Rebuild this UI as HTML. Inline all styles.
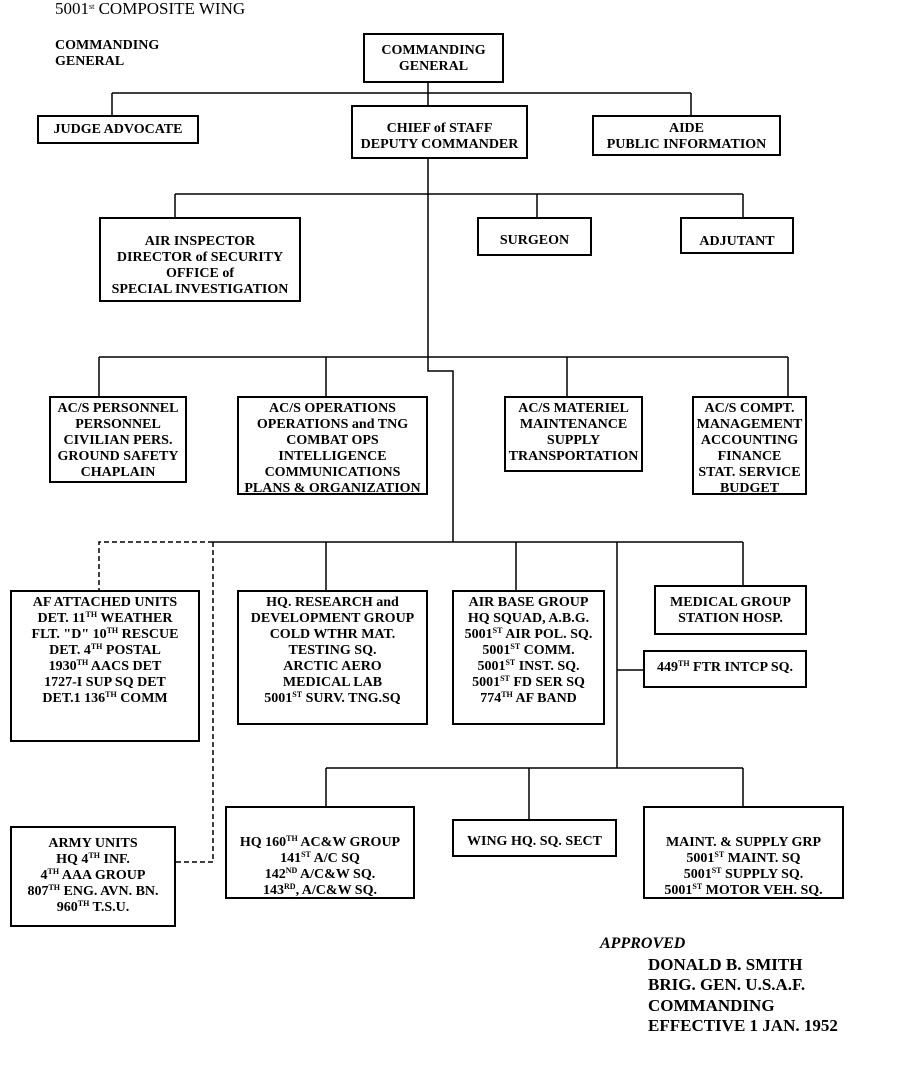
<!DOCTYPE html>
<html><head><meta charset="utf-8"><style>
body{margin:0;width:916px;height:1076px;background:#fff;position:relative;overflow:hidden;font-family:"Liberation Serif",serif;font-weight:bold;font-size:14px;color:#000}
.b{position:absolute;border:2px solid #000;box-sizing:border-box;line-height:16px;white-space:pre;text-align:center;padding-top:6px}
.b>span{position:relative;top:2px}
.t{position:absolute;white-space:pre;line-height:16px}
sup{font-size:8px;line-height:0;vertical-align:5px}
svg{position:absolute;left:0;top:0}
</style></head><body>
<svg width="916" height="1076" stroke="#000" stroke-width="1.5" fill="none">
<path d="M428 83V93M112 93H691M112 93V115M428 93V105M691 93V115"/>
<path d="M428 159V371H453V542M175 194H743M175 194V217M537 194V217M743 194V217"/>
<path d="M428 357H99M428 357H788M99 357V396M326 357V396M567 357V396M788 357V396"/>
<path d="M213 542H743M326 542V590M516 542V590M743 542V585M617 542V768M617 670H643"/>
<path d="M326 768H743M326 768V806M529 768V819M743 768V806"/>
<path d="M213 542H99V590M213 542V862H176" stroke-dasharray="5,3"/>
</svg>
<div class="t" style="left:55px;top:0px;font-weight:normal;font-size:17px;line-height:18px">5001<sup>st</sup> COMPOSITE WING</div>
<div class="t" style="left:55px;top:38px">COMMANDING
GENERAL</div>
<div class="b" style="left:363px;top:33px;width:141px;height:50px;padding-top:6px"><span>COMMANDING
GENERAL</span></div>
<div class="b" style="left:37px;top:115px;width:162px;height:29px;padding-top:3px"><span>JUDGE ADVOCATE</span></div>
<div class="b" style="left:351px;top:105px;width:177px;height:54px;padding-top:12px"><span>CHIEF of STAFF
DEPUTY COMMANDER</span></div>
<div class="b" style="left:592px;top:115px;width:189px;height:41px;padding-top:2px"><span>AIDE
PUBLIC INFORMATION</span></div>
<div class="b" style="left:99px;top:217px;width:202px;height:85px;padding-top:13px"><span>AIR INSPECTOR
DIRECTOR of SECURITY
OFFICE of
SPECIAL INVESTIGATION</span></div>
<div class="b" style="left:477px;top:217px;width:115px;height:39px;padding-top:12px"><span>SURGEON</span></div>
<div class="b" style="left:680px;top:217px;width:114px;height:37px;padding-top:13px"><span>ADJUTANT</span></div>
<div class="b" style="left:49px;top:396px;width:138px;height:87px;padding-top:1px"><span>AC/S PERSONNEL
PERSONNEL
CIVILIAN PERS.
GROUND SAFETY
CHAPLAIN</span></div>
<div class="b" style="left:237px;top:396px;width:191px;height:99px;padding-top:1px"><span>AC/S OPERATIONS
OPERATIONS and TNG
COMBAT OPS
INTELLIGENCE
COMMUNICATIONS
PLANS &amp; ORGANIZATION</span></div>
<div class="b" style="left:504px;top:396px;width:139px;height:76px;padding-top:1px"><span>AC/S MATERIEL
MAINTENANCE
SUPPLY
TRANSPORTATION</span></div>
<div class="b" style="left:692px;top:396px;width:115px;height:99px;padding-top:1px"><span>AC/S COMPT.
MANAGEMENT
ACCOUNTING
FINANCE
STAT. SERVICE
BUDGET</span></div>
<div class="b" style="left:10px;top:590px;width:190px;height:152px;padding-top:1px"><span>AF ATTACHED UNITS
DET. 11<sup>TH</sup> WEATHER
FLT. "D" 10<sup>TH</sup> RESCUE
DET. 4<sup>TH</sup> POSTAL
1930<sup>TH</sup> AACS DET
1727-I SUP SQ DET
DET.1 136<sup>TH</sup> COMM</span></div>
<div class="b" style="left:237px;top:590px;width:191px;height:135px;padding-top:1px"><span>HQ. RESEARCH and
DEVELOPMENT GROUP
COLD WTHR MAT.
TESTING SQ.
ARCTIC AERO
MEDICAL LAB
5001<sup>ST</sup> SURV. TNG.SQ</span></div>
<div class="b" style="left:452px;top:590px;width:153px;height:135px;padding-top:1px"><span>AIR BASE GROUP
HQ SQUAD, A.B.G.
5001<sup>ST</sup> AIR POL. SQ.
5001<sup>ST</sup> COMM.
5001<sup>ST</sup> INST. SQ.
5001<sup>ST</sup> FD SER SQ
774<sup>TH</sup> AF BAND</span></div>
<div class="b" style="left:654px;top:585px;width:153px;height:50px;padding-top:6px"><span>MEDICAL GROUP
STATION HOSP.</span></div>
<div class="b" style="left:643px;top:650px;width:164px;height:38px;padding-top:6px"><span>449<sup>TH</sup> FTR INTCP SQ.</span></div>
<div class="b" style="left:10px;top:826px;width:166px;height:101px;padding-top:6px"><span>ARMY UNITS
HQ 4<sup>TH</sup> INF.
4<sup>TH</sup> AAA GROUP
807<sup>TH</sup> ENG. AVN. BN.
960<sup>TH</sup> T.S.U.</span></div>
<div class="b" style="left:225px;top:806px;width:190px;height:93px;padding-top:25px"><span>HQ 160<sup>TH</sup> AC&amp;W GROUP
141<sup>ST</sup> A/C SQ
142<sup>ND</sup> A/C&amp;W SQ.
143<sup>RD</sup>, A/C&amp;W SQ.</span></div>
<div class="b" style="left:452px;top:819px;width:165px;height:38px;padding-top:11px"><span>WING HQ. SQ. SECT</span></div>
<div class="b" style="left:643px;top:806px;width:201px;height:93px;padding-top:25px"><span>MAINT. &amp; SUPPLY GRP
5001<sup>ST</sup> MAINT. SQ
5001<sup>ST</sup> SUPPLY SQ.
5001<sup>ST</sup> MOTOR VEH. SQ.</span></div>
<div class="t" style="left:600px;top:936px;font-style:italic;font-size:16px">APPROVED</div>
<div class="t" style="left:648px;top:955px;font-size:17px;line-height:20.3px">DONALD B. SMITH
BRIG. GEN. U.S.A.F.
COMMANDING
EFFECTIVE 1 JAN. 1952</div>
</body></html>
